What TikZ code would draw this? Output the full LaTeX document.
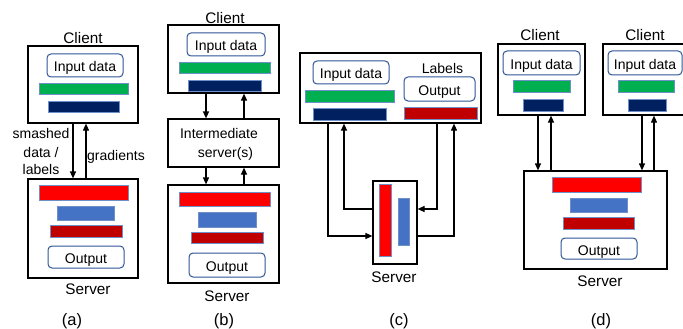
\documentclass[tikz,border=0pt]{standalone}
\usepackage{fontspec}
\setmainfont{Liberation Sans}
\usetikzlibrary{fit,arrows.meta}
\definecolor{cgreen}{HTML}{00B050}
\definecolor{cnavy}{HTML}{002060}
\definecolor{cred}{HTML}{FF0000}
\definecolor{cblue}{HTML}{4472C4}
\definecolor{cdred}{HTML}{C00000}
\definecolor{cedge}{HTML}{2F5597}
\definecolor{bedge}{HTML}{6F8FC8}
\begin{document}
\begin{tikzpicture}[x=1pt,y=-1pt,font=\fontsize{14}{17}\selectfont,
  box/.style={draw=black,line width=1.2pt,inner sep=0pt},
  rbox/.style={draw=cedge,line width=1pt,rounded corners=4pt,fill=white,inner sep=0pt},
  bar/.style={draw=bedge,line width=0.6pt,inner sep=0pt},
  lbl/.style={inner sep=0pt,text height=10pt,text depth=0pt},
  big/.style={lbl,font=\fontsize{15.3}{18}\selectfont,text height=11pt},
  capt/.style={lbl,font=\fontsize{16.5}{19}\selectfont,text height=11.8pt},
  arr/.style={line width=1.2pt,-{Triangle[length=7pt,width=6pt]}}]
\useasboundingbox (0,0) rectangle (683,329);

% ---------- (a) ----------
\node[big] (alab) at (83,38) {Client};
\node[box,fit={(28,46) (138,123)}] (acl) {};
\node[rbox,fit={(47,54) (123,77)}] (ain) {};
\node[lbl] (aint) at ([yshift=-1.5pt]ain.center) {Input data};
\node[bar,fill=cgreen,fit={(39,83) (128,94)}] (ag) {};
\node[bar,fill=cnavy,fit={(48,101) (119,112)}] (an) {};
\node[box,fit={(28,179) (138,278)}] (asv) {};
\node[bar,fill=cred,fit={(39,185) (128,200)}] (ar) {};
\node[bar,fill=cblue,fit={(57,206) (114,220)}] (ab) {};
\node[bar,fill=cdred,fit={(50,225) (122,237)}] (ad) {};
\node[rbox,fit={(48,246) (124,268)}] (aout) {};
\node[lbl] (aoutt) at ([yshift=-1.5pt]aout.center) {Output};
\node[big] (aslab) at (88,289) {Server};
\node[capt] (acap) at (72,320) {(a)};
\node[lbl] (asm1) at (41,134) {smashed};
\node[lbl] (asm2) at (41,152) {data /};
\node[lbl] (asm3) at (41,169) {labels};
\node[lbl] (agr) at (116,155.5) {gradients};
\coordinate (a1) at (73,0);
\coordinate (a2) at (86,0);
\draw[arr] (acl.south -| a1) -- (asv.north -| a1);
\draw[arr] (asv.north -| a2) -- (acl.south -| a2);

% ---------- (b) ----------
\node[big] (blab) at (225,18) {Client};
\node[box,fit={(168,25) (279,93)}] (bcl) {};
\node[rbox,fit={(187,33) (265,56)}] (bin) {};
\node[lbl] (bint) at ([yshift=-1.5pt]bin.center) {Input data};
\node[bar,fill=cgreen,fit={(179,62) (270,73)}] (bg) {};
\node[bar,fill=cnavy,fit={(188,80) (261,91)}] (bn) {};
\node[box,fit={(168,119) (279,167)}] (bim) {};
\node[lbl] (bim1) at (219,133) {Intermediate};
\node[lbl] (bim2) at (225.5,152) {server(s)};
\node[box,fit={(168,185) (279,283)}] (bsv) {};
\node[bar,fill=cred,fit={(179,192) (270,206)}] (br) {};
\node[bar,fill=cblue,fit={(198,212) (256,227)}] (bb) {};
\node[bar,fill=cdred,fit={(191,232) (263,243)}] (bd) {};
\node[rbox,fit={(189,253) (265,277)}] (bout) {};
\node[lbl] (boutt) at ([yshift=-1.5pt]bout.center) {Output};
\node[big] (bslab) at (227,295.5) {Server};
\node[capt] (bcap) at (224,320) {(b)};
\coordinate (b1) at (206,0);
\coordinate (b2) at (244,0);
\draw[arr] (bcl.south -| b1) -- (bim.north -| b1);
\draw[arr] (bim.north -| b2) -- (bcl.south -| b2);
\draw[arr] (bim.south -| b1) -- (bsv.north -| b1);
\draw[arr] (bsv.north -| b2) -- (bim.south -| b2);

% ---------- (c) ----------
\node[box,fit={(300,53) (481,123)}] (ccl) {};
\node[rbox,fit={(313,61) (389,84)}] (cin) {};
\node[lbl] (cint) at ([yshift=-1.5pt]cin.center) {Input data};
\node[bar,fill=cgreen,fit={(305,90) (394,102)}] (cg) {};
\node[bar,fill=cnavy,fit={(313,108) (386,120)}] (cn) {};
\node[lbl] (clab) at (442.5,69) {Labels};
\node[rbox,fit={(404,77) (475,101)}] (cout) {};
\node[lbl] (coutt) at ([yshift=-1.5pt]cout.center) {Output};
\node[bar,fill=cdred,fit={(404,107) (477,119)}] (cd) {};
\node[box,fit={(373,181) (417,264)}] (csv) {};
\node[bar,fill=cred,fit={(379,184) (391,256)}] (cr) {};
\node[bar,fill=cblue,fit={(398,198) (409,245)}] (cb) {};
\node[big] (cslab) at (394,277) {Server};
\node[capt] (ccap) at (399,320) {(c)};
\coordinate (c1) at (328,236);
\coordinate (c2) at (344,209);
\coordinate (c3) at (437,209);
\coordinate (c4) at (454,236);
\draw[arr] (ccl.south -| c1) |- (csv.west |- c1);
\draw[arr] (csv.west |- c2) -| (ccl.south -| c2);
\draw[arr] (ccl.south -| c3) |- (csv.east |- c3);
\draw[arr] (csv.east |- c4) -| (ccl.south -| c4);

% ---------- (d) ----------
\node[big] (dlab1) at (540,35.5) {Client};
\node[box,fit={(498,44) (585,115)}] (dcl1) {};
\node[rbox,fit={(503,51) (580,75)}] (din1) {};
\node[lbl] (din1t) at ([yshift=-1.5pt]din1.center) {Input data};
\node[bar,fill=cgreen,fit={(513,80) (570,92)}] (dg1) {};
\node[bar,fill=cnavy,fit={(523,99) (563,111)}] (dn1) {};
\node[big] (dlab2) at (645,35.5) {Client};
\node[box,fit={(603,44) (684,115)}] (dcl2) {};
\node[rbox,fit={(608,51) (682,75)}] (din2) {};
\node[lbl] (din2t) at ([yshift=-1.5pt]din2.center) {Input data};
\node[bar,fill=cgreen,fit={(618,80) (674,92)}] (dg2) {};
\node[bar,fill=cnavy,fit={(628,99) (666,111)}] (dn2) {};
\node[box,fit={(524,171) (667,269)}] (dsv) {};
\node[bar,fill=cred,fit={(552,177) (641,192)}] (dr) {};
\node[bar,fill=cblue,fit={(570,198) (627,212)}] (db) {};
\node[bar,fill=cdred,fit={(563,217) (634,229)}] (dd) {};
\node[rbox,fit={(561,238) (637,259)}] (dout) {};
\node[lbl] (doutt) at ([yshift=-1.5pt]dout.center) {Output};
\node[big] (dslab) at (600,280.5) {Server};
\node[capt] (dcap) at (601,320) {(d)};
\coordinate (d1) at (538,0);
\coordinate (d2) at (551,0);
\coordinate (d3) at (642,0);
\coordinate (d4) at (654,0);
\draw[arr] (dcl1.south -| d1) -- (dsv.north -| d1);
\draw[arr] (dsv.north -| d2) -- (dcl1.south -| d2);
\draw[arr] (dcl2.south -| d3) -- (dsv.north -| d3);
\draw[arr] (dsv.north -| d4) -- (dcl2.south -| d4);
\end{tikzpicture}
\end{document}
